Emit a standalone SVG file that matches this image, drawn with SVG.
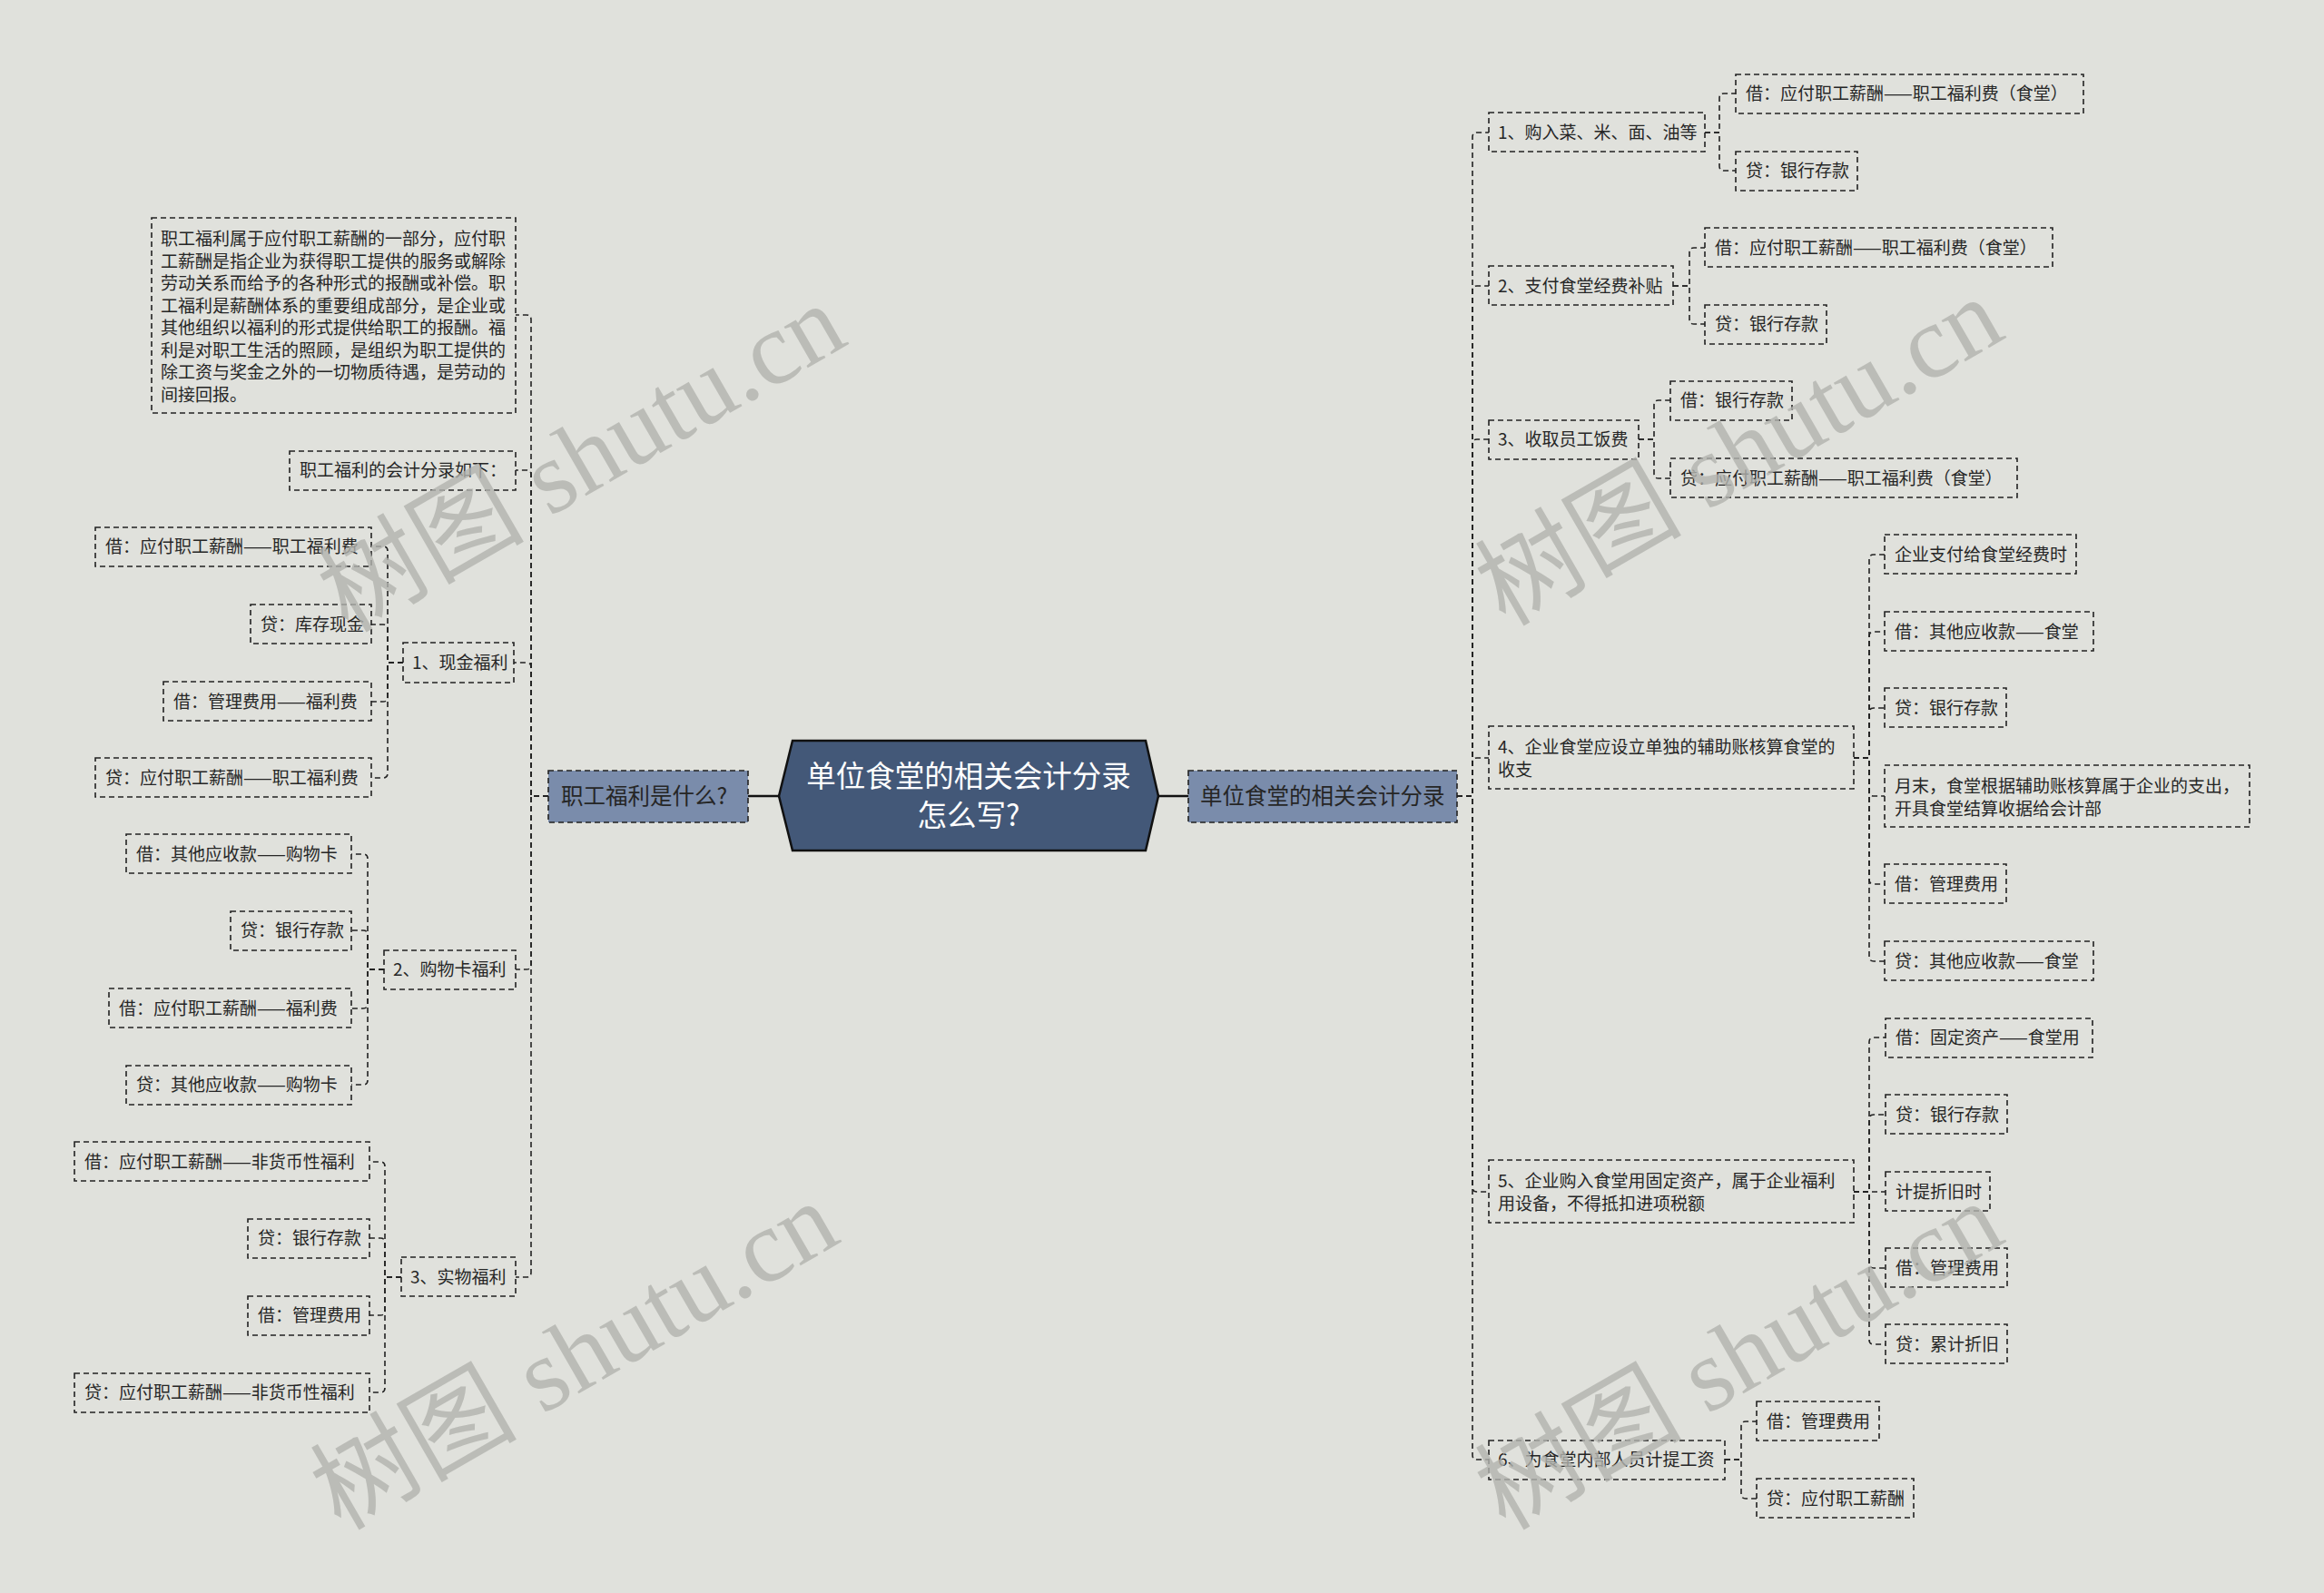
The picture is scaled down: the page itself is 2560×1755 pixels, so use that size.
<svg xmlns="http://www.w3.org/2000/svg" width="2560" height="1755" viewBox="0 0 2560 1755">
<style>
.bg{fill:#e0e1dc}
.box{fill:none;stroke:#222;stroke-width:1.6;stroke-dasharray:6 4}
.c{fill:none;stroke:#222;stroke-width:1.6;stroke-dasharray:6 4}
.t{font-family:"Noto Sans CJK SC","Noto Sans",sans-serif;font-size:19px;fill:#262626}
.p{font-family:"Noto Sans CJK SC","Noto Sans",sans-serif;font-size:19px;fill:#262626}
.l1{fill:#7a8cab;stroke:#222;stroke-width:1.6;stroke-dasharray:6 4}
.l1t{font-family:"Noto Sans CJK SC","Noto Sans",sans-serif;font-size:24.5px;fill:#262626}
.root{fill:#435878;stroke:#111;stroke-width:2.5}
.rt{font-family:"Noto Sans CJK SC","Noto Sans",sans-serif;font-size:32.5px;fill:#ffffff;text-anchor:middle}
.solid{fill:none;stroke:#111;stroke-width:2.5}
.wm{font-family:"Liberation Serif","Noto Sans CJK SC",serif;font-size:114px;fill:#b3b4af;opacity:0.8;text-anchor:middle}
</style>
<rect class="bg" x="0" y="0" width="2560" height="1755"/>

<g id="connectors">
<path class="solid" d="M858,877 H824"/>
<path class="solid" d="M1276,877 H1309"/>
<path class="c" d="M604,877 H585 V352 Q585,347 580,347 H568"/>
<path class="c" d="M604,877 H585 V523 Q585,518 580,518 H568"/>
<path class="c" d="M604,877 H585 V735 Q585,730 580,730 H566"/>
<path class="c" d="M604,877 H585 V1063 Q585,1068 580,1068 H568"/>
<path class="c" d="M604,877 H585 V1402 Q585,1407 580,1407 H568"/>
<path class="c" d="M444,730 H427 V607 Q427,602 422,602 H409"/>
<path class="c" d="M444,730 H427 V693 Q427,688 422,688 H409"/>
<path class="c" d="M444,730 H427 V768 Q427,773 422,773 H409"/>
<path class="c" d="M444,730 H427 V852 Q427,857 422,857 H409"/>
<path class="c" d="M423,1068 H405 V946 Q405,941 400,941 H387"/>
<path class="c" d="M423,1068 H405 V1030 Q405,1025 400,1025 H387"/>
<path class="c" d="M423,1068 H405 V1106 Q405,1111 400,1111 H387"/>
<path class="c" d="M423,1068 H405 V1190 Q405,1195 400,1195 H387"/>
<path class="c" d="M442,1407 H424 V1285 Q424,1280 419,1280 H407"/>
<path class="c" d="M442,1407 H424 V1369 Q424,1364 419,1364 H407"/>
<path class="c" d="M442,1407 H424 V1444 Q424,1449 419,1449 H407"/>
<path class="c" d="M442,1407 H424 V1529 Q424,1534 419,1534 H407"/>
<path class="c" d="M1605,877 H1622 V151 Q1622,146 1627,146 H1640"/>
<path class="c" d="M1605,877 H1622 V320 Q1622,315 1627,315 H1640"/>
<path class="c" d="M1605,877 H1622 V489 Q1622,484 1627,484 H1640"/>
<path class="c" d="M1605,877 H1622 V840 Q1622,835 1627,835 H1640"/>
<path class="c" d="M1605,877 H1622 V1308 Q1622,1313 1627,1313 H1640"/>
<path class="c" d="M1605,877 H1622 V1603 Q1622,1608 1627,1608 H1640"/>
<path class="c" d="M1878,146 H1894 V108 Q1894,103 1899,103 H1912"/>
<path class="c" d="M1878,146 H1894 V183 Q1894,188 1899,188 H1912"/>
<path class="c" d="M1843,315 H1861 V278 Q1861,273 1866,273 H1878"/>
<path class="c" d="M1843,315 H1861 V352 Q1861,357 1866,357 H1878"/>
<path class="c" d="M1805,484 H1822 V446 Q1822,441 1827,441 H1840"/>
<path class="c" d="M1805,484 H1822 V522 Q1822,527 1827,527 H1840"/>
<path class="c" d="M2042,835 H2059 V616 Q2059,611 2064,611 H2076"/>
<path class="c" d="M2042,835 H2059 V701 Q2059,696 2064,696 H2076"/>
<path class="c" d="M2042,835 H2059 V785 Q2059,780 2064,780 H2076"/>
<path class="c" d="M2042,835 H2059 V872 Q2059,877 2064,877 H2076"/>
<path class="c" d="M2042,835 H2059 V969 Q2059,974 2064,974 H2076"/>
<path class="c" d="M2042,835 H2059 V1054 Q2059,1059 2064,1059 H2076"/>
<path class="c" d="M2042,1313 H2059 V1148 Q2059,1143 2064,1143 H2077"/>
<path class="c" d="M2042,1313 H2059 V1233 Q2059,1228 2064,1228 H2077"/>
<path class="c" d="M2042,1313 H2077"/>
<path class="c" d="M2042,1313 H2059 V1392 Q2059,1397 2064,1397 H2077"/>
<path class="c" d="M2042,1313 H2059 V1476 Q2059,1481 2064,1481 H2077"/>
<path class="c" d="M1900,1608 H1918 V1571 Q1918,1566 1923,1566 H1935"/>
<path class="c" d="M1900,1608 H1918 V1646 Q1918,1651 1923,1651 H1935"/>
</g>

<g id="root">
<polygon class="root" points="858,877 873,816 1262,816 1276,877 1262,937 873,937"/>
<text class="rt" x="1067" y="867">单位食堂的相关会计分录</text>
<text class="rt" x="1067" y="910">怎么写?</text>
</g>

<g id="n-left">
<rect class="l1" x="604" y="849" width="220" height="57"/>
<text class="l1t" x="618" y="886">职工福利是什么?</text>
</g>
<g id="n-right">
<rect class="l1" x="1309" y="849" width="296" height="57"/>
<text class="l1t" x="1322" y="886">单位食堂的相关会计分录</text>
</g>

<g id="n-para">
<rect class="box" x="167" y="240" width="401" height="215"/>
<text class="p" x="177" y="270">职工福利属于应付职工薪酬的一部分，应付职</text>
<text class="p" x="177" y="294.5">工薪酬是指企业为获得职工提供的服务或解除</text>
<text class="p" x="177" y="319">劳动关系而给予的各种形式的报酬或补偿。职</text>
<text class="p" x="177" y="343.5">工福利是薪酬体系的重要组成部分，是企业或</text>
<text class="p" x="177" y="368">其他组织以福利的形式提供给职工的报酬。福</text>
<text class="p" x="177" y="392.5">利是对职工生活的照顾，是组织为职工提供的</text>
<text class="p" x="177" y="417">除工资与奖金之外的一切物质待遇，是劳动的</text>
<text class="p" x="177" y="441.5">间接回报。</text>
</g>
<g id="n-ru"><rect class="box" x="319" y="497" width="249" height="43"/><text class="t" x="330" y="525">职工福利的会计分录如下：</text></g>

<g id="n-l1"><rect class="box" x="444" y="708" width="122" height="44"/><text class="t" x="454" y="737">1、现金福利</text></g>
<g id="n-l1a"><rect class="box" x="105" y="581" width="304" height="43"/><text class="t" x="116" y="609">借：应付职工薪酬——职工福利费</text></g>
<g id="n-l1b"><rect class="box" x="276" y="666" width="133" height="43"/><text class="t" x="287" y="695">贷：库存现金</text></g>
<g id="n-l1c"><rect class="box" x="180" y="751" width="229" height="43"/><text class="t" x="191" y="780">借：管理费用——福利费</text></g>
<g id="n-l1d"><rect class="box" x="105" y="835" width="304" height="43"/><text class="t" x="116" y="864">贷：应付职工薪酬——职工福利费</text></g>

<g id="n-l2"><rect class="box" x="423" y="1047" width="145" height="43"/><text class="t" x="433" y="1075">2、购物卡福利</text></g>
<g id="n-l2a"><rect class="box" x="139" y="919" width="248" height="43"/><text class="t" x="150" y="948">借：其他应收款——购物卡</text></g>
<g id="n-l2b"><rect class="box" x="254" y="1004" width="133" height="43"/><text class="t" x="265" y="1032">贷：银行存款</text></g>
<g id="n-l2c"><rect class="box" x="120" y="1089" width="267" height="43"/><text class="t" x="131" y="1118">借：应付职工薪酬——福利费</text></g>
<g id="n-l2d"><rect class="box" x="139" y="1174" width="248" height="43"/><text class="t" x="150" y="1202">贷：其他应收款——购物卡</text></g>

<g id="n-l3"><rect class="box" x="442" y="1385" width="126" height="43"/><text class="t" x="452" y="1414">3、实物福利</text></g>
<g id="n-l3a"><rect class="box" x="82" y="1258" width="325" height="43"/><text class="t" x="93" y="1287">借：应付职工薪酬——非货币性福利</text></g>
<g id="n-l3b"><rect class="box" x="273" y="1343" width="134" height="43"/><text class="t" x="284" y="1371">贷：银行存款</text></g>
<g id="n-l3c"><rect class="box" x="273" y="1428" width="134" height="43"/><text class="t" x="284" y="1456">借：管理费用</text></g>
<g id="n-l3d"><rect class="box" x="82" y="1513" width="325" height="43"/><text class="t" x="93" y="1541">贷：应付职工薪酬——非货币性福利</text></g>

<g id="n-r1"><rect class="box" x="1640" y="124" width="238" height="43"/><text class="t" x="1650" y="153">1、购入菜、米、面、油等</text></g>
<g id="n-r1a"><rect class="box" x="1912" y="82" width="383" height="43"/><text class="t" x="1923" y="110">借：应付职工薪酬——职工福利费（食堂）</text></g>
<g id="n-r1b"><rect class="box" x="1912" y="167" width="134" height="43"/><text class="t" x="1923" y="195">贷：银行存款</text></g>

<g id="n-r2"><rect class="box" x="1640" y="293" width="203" height="43"/><text class="t" x="1650" y="322">2、支付食堂经费补贴</text></g>
<g id="n-r2a"><rect class="box" x="1878" y="251" width="383" height="43"/><text class="t" x="1889" y="280">借：应付职工薪酬——职工福利费（食堂）</text></g>
<g id="n-r2b"><rect class="box" x="1878" y="336" width="134" height="43"/><text class="t" x="1889" y="364">贷：银行存款</text></g>

<g id="n-r3"><rect class="box" x="1640" y="463" width="165" height="43"/><text class="t" x="1650" y="491">3、收取员工饭费</text></g>
<g id="n-r3a"><rect class="box" x="1840" y="420" width="134" height="43"/><text class="t" x="1851" y="448">借：银行存款</text></g>
<g id="n-r3b"><rect class="box" x="1840" y="505" width="382" height="43"/><text class="t" x="1851" y="534">贷：应付职工薪酬——职工福利费（食堂）</text></g>

<g id="n-r4"><rect class="box" x="1640" y="800" width="402" height="69"/><text class="t" x="1650" y="830">4、企业食堂应设立单独的辅助账核算食堂的</text><text class="t" x="1650" y="855">收支</text></g>
<g id="n-r4a"><rect class="box" x="2076" y="589" width="211" height="43"/><text class="t" x="2087" y="618">企业支付给食堂经费时</text></g>
<g id="n-r4b"><rect class="box" x="2076" y="674" width="230" height="43"/><text class="t" x="2087" y="703">借：其他应收款——食堂</text></g>
<g id="n-r4c"><rect class="box" x="2076" y="758" width="134" height="43"/><text class="t" x="2087" y="787">贷：银行存款</text></g>
<g id="n-r4d"><rect class="box" x="2076" y="843" width="402" height="68"/><text class="t" x="2087" y="873">月末，食堂根据辅助账核算属于企业的支出，</text><text class="t" x="2087" y="898">开具食堂结算收据给会计部</text></g>
<g id="n-r4e"><rect class="box" x="2076" y="952" width="134" height="43"/><text class="t" x="2087" y="981">借：管理费用</text></g>
<g id="n-r4f"><rect class="box" x="2076" y="1037" width="230" height="43"/><text class="t" x="2087" y="1066">贷：其他应收款——食堂</text></g>

<g id="n-r5"><rect class="box" x="1640" y="1278" width="402" height="69"/><text class="t" x="1650" y="1308">5、企业购入食堂用固定资产，属于企业福利</text><text class="t" x="1650" y="1333">用设备，不得抵扣进项税额</text></g>
<g id="n-r5a"><rect class="box" x="2077" y="1122" width="228" height="43"/><text class="t" x="2088" y="1150">借：固定资产——食堂用</text></g>
<g id="n-r5b"><rect class="box" x="2077" y="1206" width="134" height="43"/><text class="t" x="2088" y="1235">贷：银行存款</text></g>
<g id="n-r5c"><rect class="box" x="2077" y="1291" width="115" height="43"/><text class="t" x="2088" y="1320">计提折旧时</text></g>
<g id="n-r5d"><rect class="box" x="2077" y="1375" width="134" height="43"/><text class="t" x="2088" y="1404">借：管理费用</text></g>
<g id="n-r5e"><rect class="box" x="2077" y="1459" width="134" height="43"/><text class="t" x="2088" y="1488">贷：累计折旧</text></g>

<g id="n-r6"><rect class="box" x="1640" y="1587" width="260" height="43"/><text class="t" x="1650" y="1615">6、为食堂内部人员计提工资</text></g>
<g id="n-r6a"><rect class="box" x="1935" y="1544" width="135" height="43"/><text class="t" x="1946" y="1573">借：管理费用</text></g>
<g id="n-r6b"><rect class="box" x="1935" y="1629" width="173" height="43"/><text class="t" x="1946" y="1658">贷：应付职工薪酬</text></g>

<g id="watermarks">
<text class="wm" transform="translate(660,538) rotate(-30)">树图 shutu.cn</text>
<text class="wm" transform="translate(1935,531) rotate(-30)">树图 shutu.cn</text>
<text class="wm" transform="translate(652,1527) rotate(-30)">树图 shutu.cn</text>
<text class="wm" transform="translate(1935,1527) rotate(-30)">树图 shutu.cn</text>
</g>
</svg>
